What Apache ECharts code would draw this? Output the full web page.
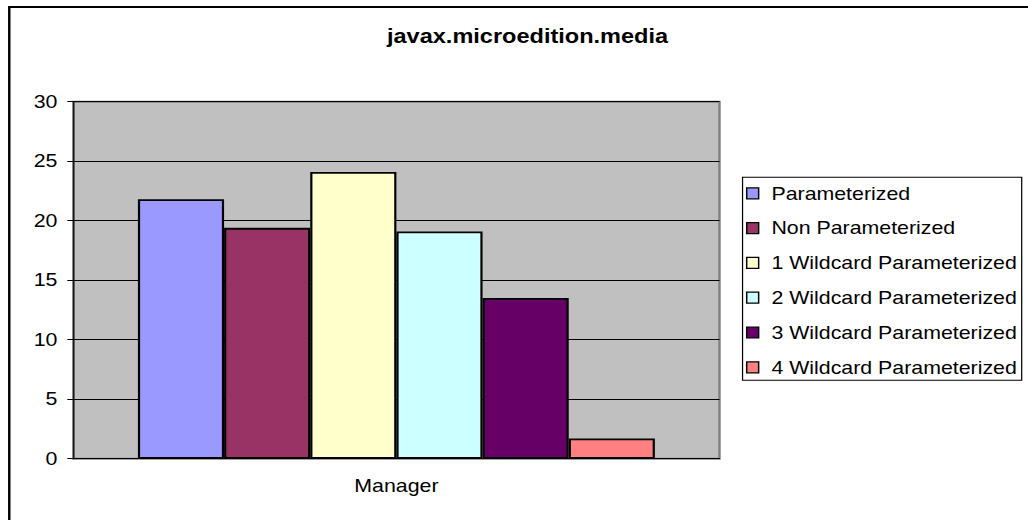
<!DOCTYPE html>
<html>
<head>
<meta charset="utf-8">
<script src="https://cdn.jsdelivr.net/npm/echarts@6/dist/echarts.min.js"></script>
<style>
  html, body { margin: 0; padding: 0; background: #fff; overflow: hidden; }
  /* The chart is laid out in a narrower box and widened horizontally,
     which gives the wide, stretched lettering of the original sheet chart. */
  #chart {
    width: 843px; height: 520px;
    transform: scaleX(1.2195); transform-origin: 0 0;
  }
</style>
</head>
<body>
<div id="chart"></div>
<script>
// Chart data
const chartTitle = 'javax.microedition.media';
const categories = ['Manager'];
const seriesNames = [
  'Parameterized',
  'Non Parameterized',
  '1 Wildcard Parameterized',
  '2 Wildcard Parameterized',
  '3 Wildcard Parameterized',
  '4 Wildcard Parameterized'
];
const seriesValues = [21.8, 19.4, 24.1, 19.1, 13.5, 1.7];
const seriesColors = ['#9999FF', '#993366', '#FFFFCC', '#CCFFFF', '#660066', '#FF8080'];
const yTicks = { min: 0, max: 30, step: 5 };

const FONT = 'Liberation Sans, Arial, sans-serif';

const chart = echarts.init(document.getElementById('chart'), null, { renderer: 'svg' });

const series = seriesNames.map((name, i) => ({
  name: name,
  type: 'bar',
  data: [seriesValues[i]],
  barGap: '0%',
  barCategoryGap: '20%',
  itemStyle: { color: seriesColors[i], borderColor: '#000', borderWidth: 1.8 },
  emphasis: { disabled: true }
}));

chart.setOption({
  animation: false,
  title: {
    text: chartTitle,
    left: 432.6,
    top: 27,
    textAlign: 'center',
    padding: 0,
    textStyle: { fontFamily: FONT, fontSize: 19.3, fontWeight: 'bold', color: '#000', lineHeight: 20 }
  },
  legend: {
    orient: 'vertical',
    left: 611.7,
    top: 183.3,
    padding: 0,
    itemGap: 14.8,
    itemWidth: 9.8,
    itemHeight: 11,
    icon: 'rect',
    selectedMode: false,
    itemStyle: { borderColor: '#000', borderWidth: 1.2 },
    textStyle: { fontFamily: FONT, fontSize: 17.5, color: '#000', lineHeight: 20, padding: [0, 0, 0, 5.5] },
    data: seriesNames
  },
  grid: {
    left: 60.1, top: 101.7, width: 529.9, height: 357,
    show: true, backgroundColor: '#C0C0C0', borderColor: '#808080', borderWidth: 2
  },
  xAxis: {
    type: 'category',
    data: categories,
    axisLine: { lineStyle: { color: '#000', width: 1 } },
    axisTick: { show: false },
    axisLabel: { fontFamily: FONT, fontSize: 17.5, color: '#000', margin: 18 }
  },
  yAxis: {
    type: 'value',
    min: yTicks.min, max: yTicks.max, interval: yTicks.step,
    axisLine: { show: true, lineStyle: { color: '#000', width: 1 } },
    axisTick: { show: true, length: 4.9, lineStyle: { color: '#000', width: 1 } },
    axisLabel: { fontFamily: FONT, fontSize: 17.5, color: '#000', margin: 13 },
    splitLine: { show: true, lineStyle: { color: '#000', width: 1 } }
  },
  graphic: [
    // outer chart frame (top and left edges show inside the page)
    { type: 'rect', silent: true, z: -10,
      shape: { x: 7.6, y: 7, width: 900, height: 600 },
      style: { fill: null, stroke: '#000', lineWidth: 2 } },
    // legend frame
    { type: 'rect', silent: true, z: -5,
      shape: { x: 608.9, y: 177.3, width: 228.9, height: 203 },
      style: { fill: '#fff', stroke: '#000', lineWidth: 1 } }
  ],
  series: series
});
</script>
</body>
</html>
